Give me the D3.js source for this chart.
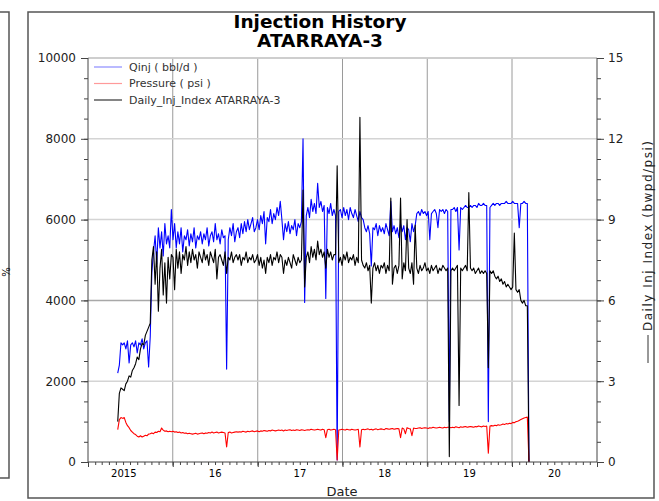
<!DOCTYPE html>
<html>
<head>
<meta charset="utf-8">
<script src="https://cdn.jsdelivr.net/npm/d3@7"></script>
<style>
body { margin: 0; background: #fff; }
text { font-family: "DejaVu Sans", Verdana, sans-serif; }
</style>
</head>
<body>
<script>
// weekly readings, first week is 2015-05-09
var firstWeek = "2015-05-09";

// Qinj ( bbl/d ), left axis
var qinj = [
    2200, 2400, 2950, 2900,
    2950, 2800, 3000, 2450, 2900, 2950, 2850, 3000, 2700, 2950, 2900, 3050, 2800, 2950, 3000, 2350, 3100,
    4700,
    5200, 5600, 4900, 5800, 5300, 5700, 5100, 5900, 5400, 5600, 5300, 6250,
    5500, 5900, 5300, 5700, 5400, 5800, 5200, 5600, 5500, 5750,
    5350, 5650, 5450, 5800, 5300, 5600, 5500, 5700, 5400, 5650,
    5500, 5800, 5350, 5600, 5700, 5450, 5900, 5500, 5650, 5400,
    5750, 5550, 5600, 2300, 5500, 5800, 5600, 5900, 5450, 5700,
    5800, 5550, 5900, 5650, 5950, 5700, 6000, 5750, 5900, 6050, 5700,
    5800, 6000, 5750, 6100, 5900, 6200, 5400, 6050, 5950, 6250, 5900, 6150, 6000, 6300, 6100,
    6450, 6000, 5500, 5900, 5700, 5950, 5650, 5850, 5750, 6000, 5600, 5900, 5800, 5950,
    8000, 3950,
    6100, 6300, 6050, 6500, 6200, 6400, 6150, 6900, 6300, 6450, 6200, 6350, 4050, 6300, 6150, 6400, 6100, 6250,
    6100, 50, 6200,
    6250, 6050, 6300, 6100, 6250, 6000, 6300, 6150, 6050, 6250, 6100, 5950, 6200, 6050, 6000,
    5800, 5700, 5850, 5650, 4850, 5800, 5750, 5900, 5600, 5850,
    5700, 5800, 5650, 5900, 5750, 5600, 6450, 5700, 5850, 5650,
    5800, 5550, 5900, 5700, 5850, 5500, 5800, 5750, 5450, 5900, 5700, 5850,
    6150, 6200, 6100, 6250, 6150, 6200, 6100, 6200, 5500, 6150,
    6200, 6250, 6150, 5800, 6250, 6200, 6250, 6150, 6250, 6200,
    1000, 6250,
    6250, 6300, 6200, 6300, 5250, 6300, 6250, 6300, 6350, 6300,
    6300, 6350, 6300, 6350, 6350, 6300, 6400, 6350, 6350, 6400, 6350, 6350,
    1000, 6300,
    6350, 6400, 6350, 6400, 6400, 6350, 6400, 6400, 6400, 6450, 6400, 6400,
    6400, 6450, 6400, 6400, 6400, 5800, 6400, 6400, 6450, 6400, 6400,
    0
];

// Pressure ( psi ), left axis
var pressure = [
    800, 1050, 1100, 1080, 1100, 980, 900, 850, 780, 740, 700, 680, 640, 620, 650, 620, 640, 660, 650, 690, 700,
    720, 700, 740, 730, 760, 750, 840, 790, 760, 770, 750, 760, 750,
    760, 740, 750, 730, 740, 720, 730, 710, 720, 700,
    710, 700, 690, 700, 710, 690, 700, 710, 720, 700,
    720, 710, 730, 720, 740, 720, 730, 740, 720, 730,
    740, 730, 720, 370, 730, 740, 720, 730, 740, 750,
    740, 750, 740, 760, 750, 740, 760, 750, 760, 770, 750,
    760, 770, 750, 770, 760, 780, 770, 760, 780, 770, 790, 780, 770, 780, 790,
    780, 790, 770, 790, 780, 790, 800, 780, 790, 780, 800, 790, 780, 800,
    790, 780, 790, 800, 790, 810, 800, 790, 800, 810, 800, 790, 810, 800, 600, 800, 810, 790, 800, 810,
    800, 50, 790, 800,
    810, 800, 790, 810, 800, 790, 810, 800, 790, 800, 810, 370, 800, 810,
    800, 810, 820, 800, 810, 790, 810, 820, 800, 810,
    820, 810, 800, 830, 820, 810, 820, 830, 810, 820,
    830, 820, 600, 840, 820, 700, 850, 830, 820, 650, 840, 830,
    830, 840, 850, 830, 840, 850, 840, 830, 850, 840,
    860, 850, 840, 850, 860, 850, 840, 860, 850, 860,
    860, 850,
    860, 850, 870, 860, 850, 870, 860, 870, 880, 860,
    870, 880, 870, 860, 880, 870, 890, 880, 870, 890, 880, 890,
    220, 890,
    900, 890, 910, 900, 920, 910, 920, 940, 930, 950, 940, 960,
    950, 980, 970, 1000, 1010, 1030, 1050, 1070, 1090, 1100, 1110,
    0
];

// Daily_Inj_Index ATARRAYA-3 ( bwpd/psi ), right axis
var injIndex = [
    1.5, 2.55, 2.75, 2.7, 2.65, 2.9, 3.0, 3.2, 3.15, 3.4, 3.5, 3.65, 3.9, 3.8, 4.2, 4.4, 4.35, 4.7, 4.85, 5.0, 5.15,
    7.5,
    8.0, 6.6, 7.8, 5.6, 7.2, 7.9, 6.2, 7.4, 5.9, 7.6, 6.8, 7.7,
    7.6, 6.4, 7.9, 7.2, 7.8, 7.0, 7.7, 7.5, 8.0, 7.3,
    7.8, 7.4, 7.9, 7.5, 7.7, 7.2, 7.8, 7.6, 7.4, 7.9,
    7.5, 7.7, 7.3, 7.8, 7.6, 7.4, 7.9, 6.8, 7.6, 7.7,
    7.5, 7.3, 7.8, 7.0, 7.6, 7.5, 7.8, 7.4, 7.6, 7.7,
    7.5, 7.7, 7.3, 7.6, 7.5, 7.8, 7.4, 7.6, 7.5, 7.7, 7.4,
    7.5, 7.7, 7.3, 7.6, 7.2, 7.5, 7.0, 7.6, 7.4, 7.7, 7.3, 7.6, 7.5, 7.8, 7.4,
    7.7, 7.6, 7.0, 7.5, 7.3, 7.6, 7.4, 7.2, 7.7, 7.5, 7.3, 7.6, 7.4, 7.5,
    10.1, 6.5,
    7.6, 7.8, 7.4, 8.0, 7.6, 7.9, 7.5, 8.2, 7.7, 7.9, 7.6, 7.8, 7.2, 7.9, 7.6, 7.8, 7.5, 7.7,
    7.7, 11.0, 7.4,
    7.6, 7.3, 7.7, 7.5, 7.8, 7.4, 7.6, 7.5, 7.7, 7.3, 7.6, 7.4, 12.8, 7.5, 7.3,
    7.2, 7.4, 7.1, 7.3, 5.9, 7.2, 7.4, 7.1, 7.3, 7.0,
    7.3, 7.2, 7.4, 7.0, 7.3, 7.1, 9.8, 6.6, 7.2, 7.3,
    7.0, 7.3, 9.8, 6.8, 7.4, 7.1, 9.0, 7.2, 7.0, 7.4, 6.6, 8.8,
    7.2, 7.0, 7.3, 7.1, 7.2, 7.4, 7.1, 7.2, 7.0, 7.3,
    7.1, 7.2, 7.3, 7.0, 7.2, 7.1, 7.3, 7.2, 7.1, 7.2,
    0.2, 7.1,
    7.2, 7.1, 7.2, 7.3, 2.1, 7.2, 7.1, 7.2, 7.3, 7.1,
    10.0, 7.2, 7.1, 7.2, 7.0, 7.1, 7.2, 7.0, 7.1, 7.0, 7.1, 7.0,
    3.5, 7.1,
    7.0, 7.1, 6.9, 6.8, 6.9, 6.7, 6.8, 6.6, 6.7, 6.5, 6.6, 6.5,
    6.4, 6.5, 8.5, 6.4, 6.3, 6.4, 6.0, 5.9, 6.0, 5.8, 5.8,
    0
];

// axes
var yearBounds = ["2015-01-01", "2016-01-01", "2017-01-01", "2018-01-01", "2019-01-01", "2020-01-01", "2021-01-01"];
var yearLabels = ["2015", "16", "17", "18", "19", "20"];
var leftTicks = [0, 2000, 4000, 6000, 8000, 10000];
var rightTicks = [0, 3, 6, 9, 12, 15];

// legend
var legendNames = ["Qinj ( bbl/d )", "Pressure ( psi )", "Daily_Inj_Index ATARRAYA-3"];
var legendColors = ["#8c8cff", "#ff9a9a", "#333333"];

// dimensions
var width = 659;
var height = 501;

var plot = {
    left: 88,
    right: 597,
    top: 58,
    bottom: 462
};

var svg = d3.select("body")
    .append("svg")
    .attr("width", width)
    .attr("height", height);

var parse = d3.utcParse("%Y-%m-%d");
var start = parse(firstWeek);

var x = d3.scaleUtc()
    .domain([parse(yearBounds[0]), parse(yearBounds[yearBounds.length - 1])])
    .range([plot.left, plot.right]);

var yLeft = d3.scaleLinear()
    .domain([0, 10000])
    .range([plot.bottom, plot.top]);

var yRight = d3.scaleLinear()
    .domain([0, 15])
    .range([plot.bottom, plot.top]);

// turn a weekly list into date/value pairs
function weekly(values) {
    return values.map(function(v, i) {
        return { date: d3.utcDay.offset(start, i * 7), value: v };
    });
}

// frame of the panel and the edge of the one on the left
svg.append("rect")
    .attr("x", 28)
    .attr("y", 12)
    .attr("width", 626)
    .attr("height", 486)
    .attr("fill", "none")
    .attr("stroke", "#555")
    .attr("stroke-width", 1.5);

svg.append("path")
    .attr("d", "M0,12H9V478H0")
    .attr("fill", "none")
    .attr("stroke", "#555")
    .attr("stroke-width", 1.5);

svg.append("text")
    .attr("transform", "translate(10,272) rotate(-90)")
    .attr("text-anchor", "middle")
    .style("font-size", "10px")
    .text("%");

// title, two separate lines
svg.append("text")
    .attr("x", 320)
    .attr("y", 28)
    .attr("text-anchor", "middle")
    .style("font-size", "18.5px")
    .style("font-weight", "bold")
    .text("Injection History");
svg.append("text")
    .attr("x", 320)
    .attr("y", 47)
    .attr("text-anchor", "middle")
    .style("font-size", "18.5px")
    .style("font-weight", "bold")
    .text("ATARRAYA-3");

// grid
var years = yearBounds.map(parse);
svg.append("g")
    .selectAll("line")
    .data(years.slice(1, -1))
    .enter().append("line")
    .attr("x1", function(d) { return x(d); })
    .attr("x2", function(d) { return x(d); })
    .attr("y1", plot.top)
    .attr("y2", plot.bottom + 4)
    .attr("stroke", "#9a9a9a")
    .attr("stroke-width", 1);

svg.append("g")
    .selectAll("line")
    .data(leftTicks.slice(1))
    .enter().append("line")
    .attr("x1", plot.left)
    .attr("x2", plot.right)
    .attr("y1", function(d) { return yLeft(d); })
    .attr("y2", function(d) { return yLeft(d); })
    .attr("stroke", function(d) { return d == 4000 ? "#a8a8a8" : "#d4d4d4"; })
    .attr("stroke-width", 1.5);

// series lines
var line = d3.line()
    .x(function(d) { return x(d.date); })
    .y(function(d) { return d.y; });

function drawSeries(values, scale, color) {
    var pts = weekly(values).map(function(d) {
        return { date: d.date, y: scale(d.value) };
    });
    svg.append("path")
        .datum(pts)
        .attr("d", line)
        .attr("fill", "none")
        .attr("stroke", color)
        .attr("stroke-width", 1.1)
        .attr("stroke-linejoin", "round");
}

drawSeries(qinj, yLeft, "#0000ff");
drawSeries(pressure, yLeft, "#ff0000");
drawSeries(injIndex, yRight, "#000000");

// axes
var axisColor = "#444";

var leftAxis = svg.append("g")
    .attr("transform", "translate(" + plot.left + ",0)")
    .call(d3.axisLeft(yLeft).tickValues(d3.range(0, 10001, 500)).tickSize(4).tickFormat(""));
leftAxis.append("g")
    .call(d3.axisLeft(yLeft).tickValues(leftTicks).tickSize(7).tickPadding(5).tickFormat(d3.format("d")));

var rightAxis = svg.append("g")
    .attr("transform", "translate(" + plot.right + ",0)")
    .call(d3.axisRight(yRight).tickValues(d3.range(0, 15.01, 0.75)).tickSize(4).tickFormat(""));
rightAxis.append("g")
    .call(d3.axisRight(yRight).tickValues(rightTicks).tickSize(7).tickPadding(4).tickFormat(d3.format("d")));

var bottomAxis = svg.append("g")
    .attr("transform", "translate(0," + plot.bottom + ")")
    .call(d3.axisBottom(x).ticks(d3.utcMonth.every(1)).tickSize(3).tickFormat(""));
bottomAxis.append("g")
    .call(d3.axisBottom(x).tickValues(years).tickSize(5).tickFormat(""));

// year labels sit right-aligned a bit past mid-year
var midYears = years.slice(0, -1).map(function(d) { return d3.utcMonth.offset(d, 6); });
bottomAxis.append("g")
    .call(d3.axisBottom(x).tickValues(midYears).tickSize(0).tickPadding(8)
        .tickFormat(function(d, i) { return yearLabels[i]; }))
    .selectAll("text")
    .attr("text-anchor", "end")
    .attr("dx", 6)
    .style("font-size", "10px");

svg.selectAll(".domain").remove();
svg.selectAll(".tick line").attr("stroke", axisColor);
leftAxis.selectAll("text").style("font-size", "12px").attr("fill", "#222");
rightAxis.selectAll("text").style("font-size", "12px").attr("fill", "#222");

// axis lines
svg.append("line")
    .attr("x1", plot.left).attr("x2", plot.right)
    .attr("y1", plot.top).attr("y2", plot.top)
    .attr("stroke", "#c8c8c8").attr("stroke-width", 1.5);
[plot.left, plot.right].forEach(function(px) {
    svg.append("line")
        .attr("x1", px).attr("x2", px)
        .attr("y1", plot.top).attr("y2", plot.bottom)
        .attr("stroke", axisColor);
});
svg.append("line")
    .attr("x1", plot.left).attr("x2", plot.right)
    .attr("y1", plot.bottom).attr("y2", plot.bottom)
    .attr("stroke", axisColor);

// axis titles
svg.append("text")
    .attr("x", 342)
    .attr("y", 496)
    .attr("text-anchor", "middle")
    .style("font-size", "13px")
    .attr("fill", "#222")
    .text("Date");

svg.append("line")
    .attr("x1", 648).attr("x2", 648)
    .attr("y1", 363).attr("y2", 335)
    .attr("stroke", "#333");
svg.append("text")
    .attr("transform", "translate(652,331) rotate(-90)")
    .attr("textLength", 190)
    .attr("lengthAdjust", "spacing")
    .style("font-size", "12px")
    .attr("fill", "#222")
    .text("Daily Inj Index (bwpd/psi)");

// legend
var legend = svg.append("g")
    .selectAll("g")
    .data(legendNames)
    .enter().append("g")
    .attr("transform", function(d, i) { return "translate(0," + (67 + i * 16.5) + ")"; });

legend.append("line")
    .attr("x1", 94)
    .attr("x2", 122)
    .attr("stroke", function(d, i) { return legendColors[i]; })
    .attr("stroke-width", 1.2);

legend.append("text")
    .attr("x", 129)
    .attr("dy", "0.35em")
    .style("font-size", "11px")
    .attr("fill", "#333")
    .text(function(d) { return d; });
</script>
</body>
</html>
